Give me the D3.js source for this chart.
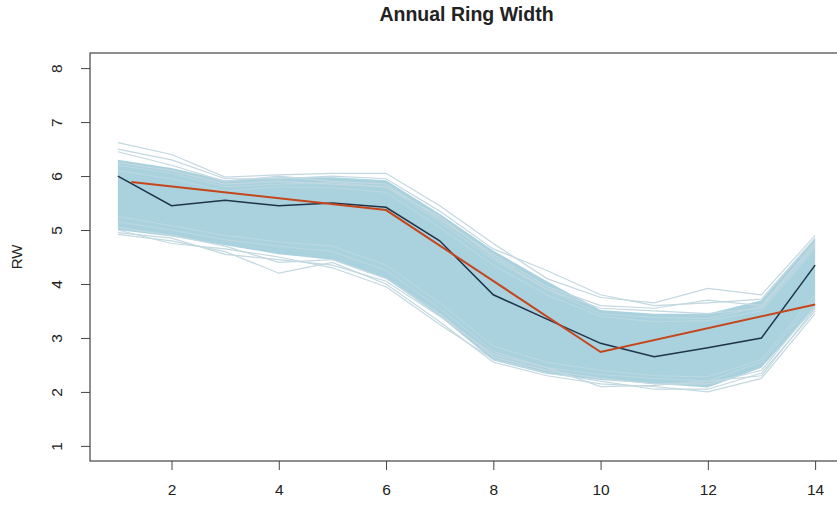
<!DOCTYPE html>
<html>
<head>
<meta charset="utf-8">
<script src="https://d3js.org/d3.v7.min.js"></script>
<style>
body { margin: 0; background: #fff; }
text { font-family: "Liberation Sans", Arial, sans-serif; fill: #222; }
</style>
</head>
<body>
<svg id="chart" width="837" height="507"></svg>
<script>
// years 1..14
var years = [1,2,3,4,5,6,7,8,9,10,11,12,13,14];

// dense part of the ensemble (upper / lower edge)
var bandUpper = [6.30, 6.15, 5.92, 5.98, 5.98, 5.92, 5.30, 4.62, 4.05, 3.52, 3.45, 3.45, 3.70, 4.85];
var bandLower = [5.00, 4.88, 4.72, 4.55, 4.45, 4.10, 3.40, 2.58, 2.33, 2.22, 2.15, 2.08, 2.45, 3.55];

// single runs that stick out of the band
var runs = [
  [6.62, 6.40, 5.98, 6.02, 6.05, 6.05, 5.45, 4.75, 4.10, 3.75, 3.65, 3.92, 3.80, 4.90],
  [6.50, 6.30, 5.95, 5.95, 6.00, 5.95, 5.35, 4.65, 4.25, 3.80, 3.60, 3.65, 3.72, 4.85],
  [6.45, 6.20, 5.90, 6.00, 5.90, 5.85, 5.20, 4.55, 3.95, 3.60, 3.55, 3.70, 3.60, 4.75],
  [6.25, 6.10, 5.85, 5.90, 5.85, 5.80, 5.25, 4.50, 3.90, 3.55, 3.50, 3.45, 3.55, 4.70],
  [4.92, 4.80, 4.60, 4.20, 4.40, 4.00, 3.30, 2.55, 2.30, 2.15, 2.10, 2.00, 2.25, 3.45],
  [5.00, 4.75, 4.65, 4.50, 4.30, 3.95, 3.25, 2.60, 2.35, 2.20, 2.05, 2.05, 2.35, 3.50],
  [5.05, 4.90, 4.70, 4.40, 4.45, 4.10, 3.45, 2.65, 2.40, 2.25, 2.15, 2.15, 2.40, 3.60],
  [4.95, 4.85, 4.55, 4.45, 4.35, 4.05, 3.40, 2.70, 2.45, 2.10, 2.12, 2.20, 2.30, 3.55]
];

// runs inside the band, close to its edges
var innerRuns = [
  [6.20, 6.05, 5.80, 5.85, 5.88, 5.80, 5.15, 4.45, 3.90, 3.45, 3.38, 3.36, 3.58, 4.78],
  [6.10, 5.95, 5.72, 5.80, 5.78, 5.70, 5.05, 4.35, 3.80, 3.40, 3.30, 3.32, 3.50, 4.65],
  [5.15, 5.00, 4.82, 4.70, 4.60, 4.25, 3.55, 2.75, 2.45, 2.32, 2.25, 2.20, 2.55, 3.70],
  [5.25, 5.08, 4.90, 4.78, 4.70, 4.35, 3.65, 2.85, 2.55, 2.40, 2.30, 2.28, 2.60, 3.80]
];

// observed series (dark line)
var observed = [6.00, 5.45, 5.55, 5.45, 5.50, 5.42, 4.80, 3.80, 3.35, 2.90, 2.65, 2.82, 3.00, 4.35];

// fitted piecewise trend (orange line)
var trendX = [1.25, 6, 10, 14];
var trendY = [5.89, 5.37, 2.74, 3.62];

var xTicks = [2,4,6,8,10,12,14];
var yTicks = [1,2,3,4,5,6,7,8];

var svg = d3.select("#chart");
var pLeft = 90, pRight = 843, pTop = 53, pBottom = 461;

var xs = d3.scaleLinear().domain([0.48, 14.52]).range([pLeft, pRight]);
var ys = d3.scaleLinear().domain([0.72, 8.28]).range([pBottom, pTop]);

// band
var area = d3.area()
  .x(function(d,i){ return xs(years[i]); })
  .y0(function(d,i){ return ys(bandLower[i]); })
  .y1(function(d){ return ys(d); });
svg.append("path").datum(bandUpper)
  .attr("d", area)
  .attr("fill", "#aad2de");

var line = d3.line()
  .x(function(d,i){ return xs(years[i]); })
  .y(function(d){ return ys(d); });

svg.append("g").selectAll("path")
  .data(innerRuns)
  .enter().append("path")
  .attr("d", line)
  .attr("fill", "none")
  .attr("stroke", "#bcd9e3")
  .attr("stroke-width", 1);

svg.append("g").selectAll("path")
  .data(runs)
  .enter().append("path")
  .attr("d", line)
  .attr("fill", "none")
  .attr("stroke", "#c3d8e0")
  .attr("stroke-width", 1.2);

svg.append("path").datum(observed)
  .attr("d", line)
  .attr("fill", "none")
  .attr("stroke", "#1d3449")
  .attr("stroke-width", 1.5);

var trendLine = d3.line()
  .x(function(d,i){ return xs(trendX[i]); })
  .y(function(d){ return ys(d); });
svg.append("path").datum(trendY)
  .attr("d", trendLine)
  .attr("fill", "none")
  .attr("stroke", "#c5461a")
  .attr("stroke-width", 2);

// box
svg.append("rect")
  .attr("x", pLeft).attr("y", pTop)
  .attr("width", pRight-pLeft).attr("height", pBottom-pTop)
  .attr("fill", "none").attr("stroke", "#444").attr("stroke-width", 1.2);

// axes
var xAxis = svg.append("g").attr("transform", "translate(0," + pBottom + ")")
  .call(d3.axisBottom(xs).tickValues(xTicks).tickSize(9).tickPadding(14).tickSizeOuter(0));
xAxis.select(".domain").remove();
xAxis.selectAll("line").attr("stroke", "#444");
xAxis.selectAll("text").style("font-size", "15.5px").attr("fill", "#222");

var yAxis = svg.append("g").attr("transform", "translate(" + pLeft + ",0)")
  .call(d3.axisLeft(ys).tickValues(yTicks).tickSize(9).tickSizeOuter(0));
yAxis.select(".domain").remove();
yAxis.selectAll("line").attr("stroke", "#444");
yAxis.selectAll("text")
  .attr("x", null).attr("dy", null)
  .attr("transform", "translate(-28,0) rotate(-90)")
  .attr("text-anchor", "middle")
  .style("font-size", "15.5px").attr("fill", "#222");

// labels
svg.append("text")
  .attr("x", (pLeft + pRight) / 2).attr("y", 21)
  .attr("text-anchor", "middle")
  .style("font-size", "19.5px").style("font-weight", "bold")
  .text("Annual Ring Width");

svg.append("text")
  .attr("transform", "translate(22," + ((pTop + pBottom) / 2) + ") rotate(-90)")
  .attr("text-anchor", "middle")
  .style("font-size", "15px")
  .text("RW");
</script>
</body>
</html>
